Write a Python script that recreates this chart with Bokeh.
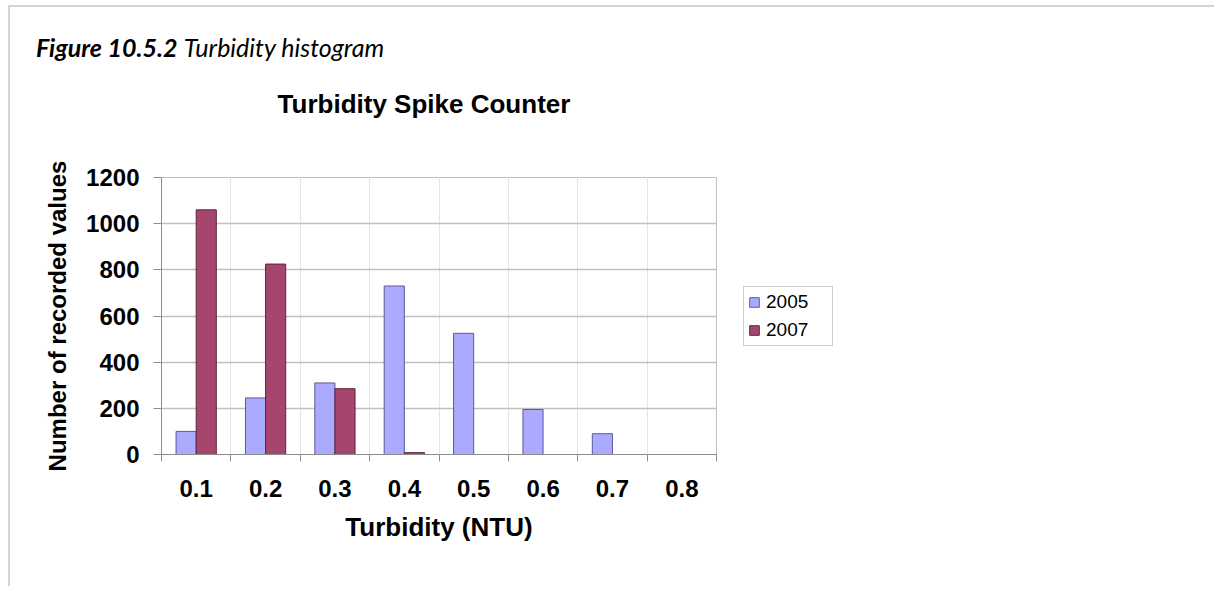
from bokeh.plotting import figure
from bokeh.layouts import column
from bokeh.models import (Range1d, LinearAxis, FixedTicker, Legend, LegendItem,
                          ColumnDataSource, Div)
from bokeh.transform import dodge
from bokeh.embed import file_html
from bokeh.resources import INLINE

# ---- data ----
categories = ["0.1", "0.2", "0.3", "0.4", "0.5", "0.6", "0.7", "0.8"]
years = ["2005", "2007"]
counts_2005 = [100, 245, 310, 730, 525, 195, 90, 0]
counts_2007 = [1060, 825, 285, 8, 0, 0, 0, 0]
y_ticks = [0, 200, 400, 600, 800, 1000, 1200]

caption_bold = "Figure 10.5.2"
caption_rest = "Turbidity histogram"
chart_title = "Turbidity Spike Counter"
x_label = "Turbidity (NTU)"
y_label = "Number of recorded values"

FONT = "Liberation Sans"
GRID = "#c0c0c0"
AXIS = "#8c8c8c"

n = len(categories)
centers = [i + 0.5 for i in range(n)]
edges = list(range(n + 1))
src = ColumnDataSource(dict(cat=categories, pos=centers, y2005=counts_2005, y2007=counts_2007))

p = figure(x_range=Range1d(0, n), y_range=Range1d(0, max(y_ticks)),
           frame_width=555, frame_height=277,
           min_border_left=151, min_border_top=30, min_border_right=494, min_border_bottom=132,
           output_backend="svg", toolbar_location=None,
           x_axis_location=None, y_axis_location="left")
p.outline_line_color = GRID
p.background_fill_color = "white"

# y axis
ya = p.yaxis[0]
ya.ticker = FixedTicker(ticks=y_ticks)
ya.major_tick_out = 8
ya.major_tick_in = 0
ya.minor_tick_line_color = None
ya.axis_line_color = AXIS
ya.major_tick_line_color = AXIS
ya.major_label_text_font = FONT
ya.major_label_text_font_style = "bold"
ya.major_label_text_font_size = "24px"
ya.major_label_text_color = "black"
ya.major_label_standoff = 14
ya.axis_label = y_label
ya.axis_label_text_font = FONT
ya.axis_label_text_font_style = "bold"
ya.axis_label_text_font_size = "24px"
ya.axis_label_text_color = "black"
ya.axis_label_standoff = 12

p.ygrid.ticker = FixedTicker(ticks=y_ticks)
p.ygrid.grid_line_color = GRID
p.ygrid.grid_line_width = 1.5

# x axis: labels at category centres, tick marks at category boundaries
xa = LinearAxis(ticker=FixedTicker(ticks=centers, minor_ticks=edges),
                major_label_overrides={c: lab for c, lab in zip(centers, categories)},
                axis_line_color=AXIS, major_tick_line_color=None,
                major_tick_out=0, major_tick_in=0,
                minor_tick_line_color=AXIS, minor_tick_out=7, minor_tick_in=0,
                major_label_text_font=FONT, major_label_text_font_style="bold",
                major_label_text_font_size="24px", major_label_text_color="black",
                major_label_standoff=18,
                axis_label=x_label, axis_label_text_font=FONT,
                axis_label_text_font_style="bold", axis_label_text_font_size="26px",
                axis_label_text_color="black", axis_label_standoff=12)
p.add_layout(xa, "below")

# bars
r1 = p.vbar(x=dodge("pos", -0.145), top="y2005", width=0.29, source=src,
            fill_color="#AAAAFF", line_color="#5a5a9a", line_width=1)
r2 = p.vbar(x=dodge("pos", 0.145), top="y2007", width=0.29, source=src,
            fill_color="#A6466F", line_color="#5e2340", line_width=1)

legend = Legend(items=[LegendItem(label=years[0], renderers=[r1]),
                       LegendItem(label=years[1], renderers=[r2])],
                location="center_left", margin=27, padding=4, spacing=6,
                glyph_width=12, glyph_height=12, label_standoff=6,
                label_width=62, label_height=19,
                label_text_font=FONT, label_text_font_size="19px", label_text_color="black",
                border_line_color="#a0a0a0", border_line_width=1,
                background_fill_color="white", background_fill_alpha=1)
p.add_layout(legend, "right")

header = Div(
    text=('<div style="font-family: Lato, sans-serif; font-size: 25px; line-height: 28px; '
          'margin: 26px 0 0 26px; white-space: nowrap; color: black;">'
          f'<b><i>{caption_bold}</i></b> <i>{caption_rest}</i></div>'
          '<div style="font-family: \'Liberation Sans\', Arial, sans-serif; font-size: 26px; '
          'font-weight: bold; line-height: 28px; margin: 29px 0 0 0; width: 828px; '
          f'text-align: center; white-space: nowrap; color: black;">{chart_title}</div>'),
    width=1200, height=140, margin=0)

layout = column(header, p, spacing=0,
                styles={"border-top": "2px solid #d4d4d4", "border-left": "2px solid #d4d4d4",
                        "margin-top": "5px", "margin-left": "8px"})

open("out.html", "w").write(file_html(layout, INLINE))
